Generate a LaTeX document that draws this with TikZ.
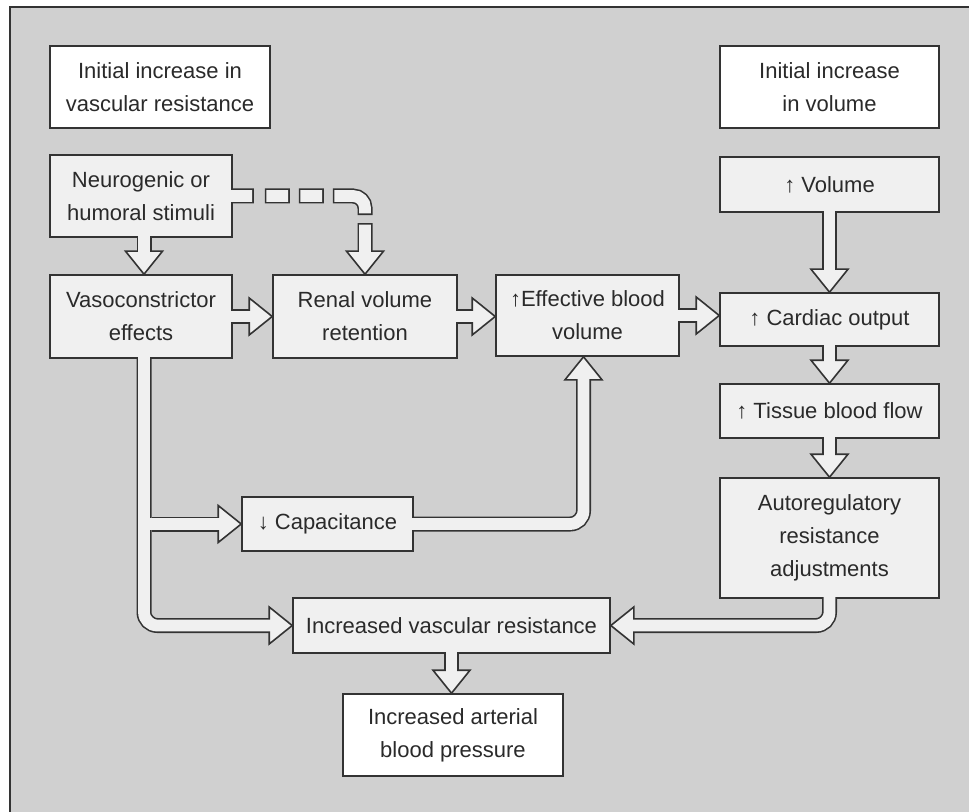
\documentclass[tikz,border=0pt]{standalone}
\usepackage{fontspec}
\setmainfont{Liberation Sans}
\usetikzlibrary{calc}
\definecolor{bgc}{HTML}{D0D0D0}
\definecolor{fillc}{HTML}{F0F0F0}
\definecolor{bord}{HTML}{333333}
\definecolor{txt}{HTML}{2A2A2A}
\tikzset{
  sho/.style={draw=bord, line width=11.25pt},
  shi/.style={draw=fillc, line width=8.85pt},
  headst/.style={draw=bord, fill=fillc, line width=1.2pt, line join=miter, miter limit=10},
  pics/hd/.style={code={\draw[headst] (0,0) -- (-23,-18.5) -- (-23,18.5) -- cycle;}},
  box/.style={draw=bord, fill=fillc, line width=1.2pt, inner sep=0pt, align=center, text=txt,
    font=\fontsize{16.5pt}{24.75pt}\selectfont},
  wbox/.style={box, fill=white},
}
\newcommand\blk[4][-1.5pt]{%
  \draw[sho, shorten >=17.25pt] #2;
  \pic[rotate=#4] at #3 {hd};
  \draw[shi, shorten >=16pt, shorten <=#1] #2;
}
\begin{document}
\begin{tikzpicture}[x=0.75pt, y=-0.75pt]
\useasboundingbox (0,0) rectangle (969,812);
\fill[white] (0,0) rectangle (969,812);
\draw[draw=bord, line width=1.5pt, fill=bgc] (10,7) rectangle (980,830);

\node[wbox, minimum width=165pt, minimum height=61.5pt] (ivr) at (160,87) {Initial increase in\\vascular resistance};
\node[box, minimum width=136.5pt, minimum height=61.5pt] (neuro) at (141,196) {Neurogenic or\\humoral stimuli};
\node[box, minimum width=136.5pt, minimum height=62.25pt] (vaso) at (141,316.5) {Vasoconstrictor\\effects};
\node[box, minimum width=138pt, minimum height=62.25pt] (renal) at (365,316.5) {Renal volume\\retention};
\node[box, minimum width=137.25pt, minimum height=60.75pt] (eff) at (587.5,315.5) {↑Effective blood\\volume};
\node[wbox, minimum width=164.25pt, minimum height=61.5pt] (ivol) at (829.5,87) {Initial increase\\in volume};
\node[box, minimum width=164.25pt, minimum height=41.25pt] (vol) at (829.5,184.5) {↑ Volume};
\node[box, minimum width=164.25pt, minimum height=39.75pt] (card) at (829.5,319.5) {↑ Cardiac output};
\node[box, minimum width=164.25pt, minimum height=40.5pt] (tissue) at (829.5,411) {↑ Tissue blood flow};
\node[box, minimum width=164.25pt, minimum height=90pt] (auto) at (829.5,538) {Autoregulatory\\resistance\\adjustments};
\node[box, minimum width=128.25pt, minimum height=40.5pt] (cap) at (327.5,524) {↓ Capacitance};
\node[box, minimum width=237.75pt, minimum height=41.25pt] (ivres) at (451.5,625.5) {Increased vascular resistance};
\node[wbox, minimum width=165pt, minimum height=61.5pt] (iabp) at (453,735) {Increased arterial\\blood pressure};

% neurogenic -> vasoconstrictor
\blk{($(neuro.south)+(3,0)$) -- ($(vaso.north)+(3,0)$)}{($(vaso.north)+(3,0)$)}{-90}
% dashed neurogenic -> renal
\draw[sho, dash pattern=on 15.75pt off 8.25pt on 18.75pt off 6.75pt on 18.75pt off 6.75pt on 34.5pt off 6pt on 300pt, shorten >=17.25pt]
  (neuro.east) [rounded corners=9pt] -- (renal.north |- neuro.east) -- (renal.north);
\pic[rotate=-90] at (renal.north) {hd};
\draw[shi, dash pattern=on 16.05pt off 10.65pt on 16.35pt off 9.15pt on 16.35pt off 9.15pt on 32.1pt off 8.4pt on 300pt, shorten >=16pt, shorten <=-1.5pt]
  (neuro.east) [rounded corners=9pt] -- (renal.north |- neuro.east) -- (renal.north);
% horizontal chain
\blk{(vaso.east) -- (renal.west)}{(renal.west)}{0}
\blk{(renal.east) -- (renal.east -| eff.west)}{(renal.east -| eff.west)}{0}
\blk{(eff.east) -- (eff.east -| card.west)}{(eff.east -| card.west)}{0}
% right column
\blk{(vol.south) -- (card.north)}{(card.north)}{-90}
\blk{(card.south) -- (tissue.north)}{(tissue.north)}{-90}
\blk{(tissue.south) -- (auto.north)}{(auto.north)}{-90}
\blk{(auto.south) [rounded corners=10pt] -- (auto.south |- ivres.east) -- (ivres.east)}{(ivres.east)}{180}
% vasoconstrictor -> increased vascular resistance
\blk{($(vaso.south)+(3,0)$) [rounded corners=10pt] -- ($(vaso.south |- ivres.west)+(3,0)$) -- (ivres.west)}{(ivres.west)}{0}
% branch to capacitance
\blk[-6pt]{($(vaso.south |- cap.west)+(10.5,0)$) -- (cap.west)}{(cap.west)}{0}
% capacitance -> effective blood volume
\blk{(cap.east) [rounded corners=10pt] -- ($(eff.south |- cap.east)+(-4,0)$) -- ($(eff.south)+(-4,0)$)}{($(eff.south)+(-4,0)$)}{90}
% increased vascular resistance -> blood pressure
\blk{(ivres.south) -- (ivres.south |- iabp.north)}{(ivres.south |- iabp.north)}{-90}
\end{tikzpicture}
\end{document}
